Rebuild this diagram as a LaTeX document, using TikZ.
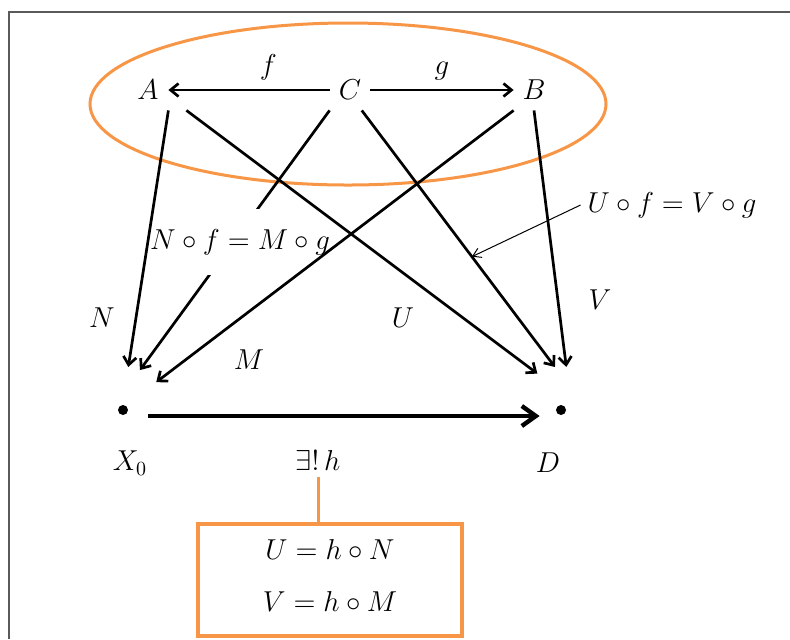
\documentclass[tikz,border=0pt]{standalone}
\usetikzlibrary{arrows.meta}

\definecolor{lineorange}{RGB}{247,150,70}
\definecolor{framegray}{RGB}{90,90,90}

\begin{document}
\begin{tikzpicture}[
    x=0.5pt, y=-0.5pt,
    font=\Large,
    obj/.style={minimum width=20pt, minimum height=20pt, inner sep=0pt},
    dot/.style={circle, fill=black, inner sep=0pt, minimum size=5pt},
    zone/.style={circle, inner sep=0pt, minimum size=43pt},
    arrow/.style={-{Straight Barb[length=4pt,width=6.5pt]}, line width=1.35pt},
    main/.style={-{Straight Barb[length=7pt,width=10pt]}, line width=2.2pt},
    hint/.style={-{Straight Barb[length=4pt,width=5pt]}, line width=0.5pt},
    eqbox/.style={draw=lineorange, line width=2pt, minimum width=132pt, minimum height=56pt}
  ]
    \useasboundingbox (0,0) rectangle (790,639);
    \draw[framegray, line width=1pt] (9,639) -- (9,12) -- (790,12);

    \draw[lineorange, line width=1.5pt] (348,104) ellipse [x radius=129pt, y radius=40.5pt];

    \node[obj] (A) at (148,90) {$A$};
    \node[obj] (C) at (350,90) {$C$};
    \node[obj] (B) at (534,90) {$B$};
    \node[dot] (x0) at (123,410) {};
    \node[dot] (d) at (561,410) {};
    \node[zone] (X0) at (x0) {};
    \node[zone] (D) at (d) {};

    \draw[arrow] (C.west) -- node[pos=.38, above=1pt] (lblf) {$f$} (A.east);
    \draw[arrow] (C.east) -- node[above=1pt] (lblg) {$g$} (B.west);

    % cone over X_0, the label breaks the line from C
    \draw[arrow] (C.south west) -- (X0.67);
    \node[fill=white, inner xsep=1pt, inner ysep=10pt] (nf) at (240,242) {$N\circ f = M\circ g$};
    \draw[arrow] (A.south east) -- (X0.83);
    \draw[arrow] (B.south west) -- (X0.40);

    % cone over D
    \draw[arrow] ([xshift=9pt]A.south east) -- (D.123);
    \draw[arrow] (C.-60) -- coordinate[pos=.57] (cd) (D.98);
    \draw[arrow] (B.south) -- (D.83);

    \node (uv) at (672,205) {$U\circ f = V\circ g$};
    \draw[hint] (uv.west) -- (cd);

    \node (lblN) at (102,318) {$N$};
    \node (lblM) at (249,360) {$M$};
    \node (lblU) at (403,318) {$U$};
    \node (lblV) at (600,300) {$V$};

    \draw[main, shorten <=10pt, shorten >=8pt] ([yshift=-3pt]x0.east) -- ([yshift=-3pt]d.west);
    \node (lblX) at (130,463) {$X_0$};
    \node (lblD) at (548,463) {$D$};
    \node (lblh) at (318,460) {$\exists!\,h$};

    \node[eqbox] (eqs) at (330,580) {};
    \node (eqU) at (330,549) {$U = h\circ N$};
    \node (eqV) at (330,601) {$V = h\circ M$};
    \draw[lineorange, line width=1.5pt] (lblh.south) -- (lblh.south |- eqs.north);
  \end{tikzpicture}
\end{document}
